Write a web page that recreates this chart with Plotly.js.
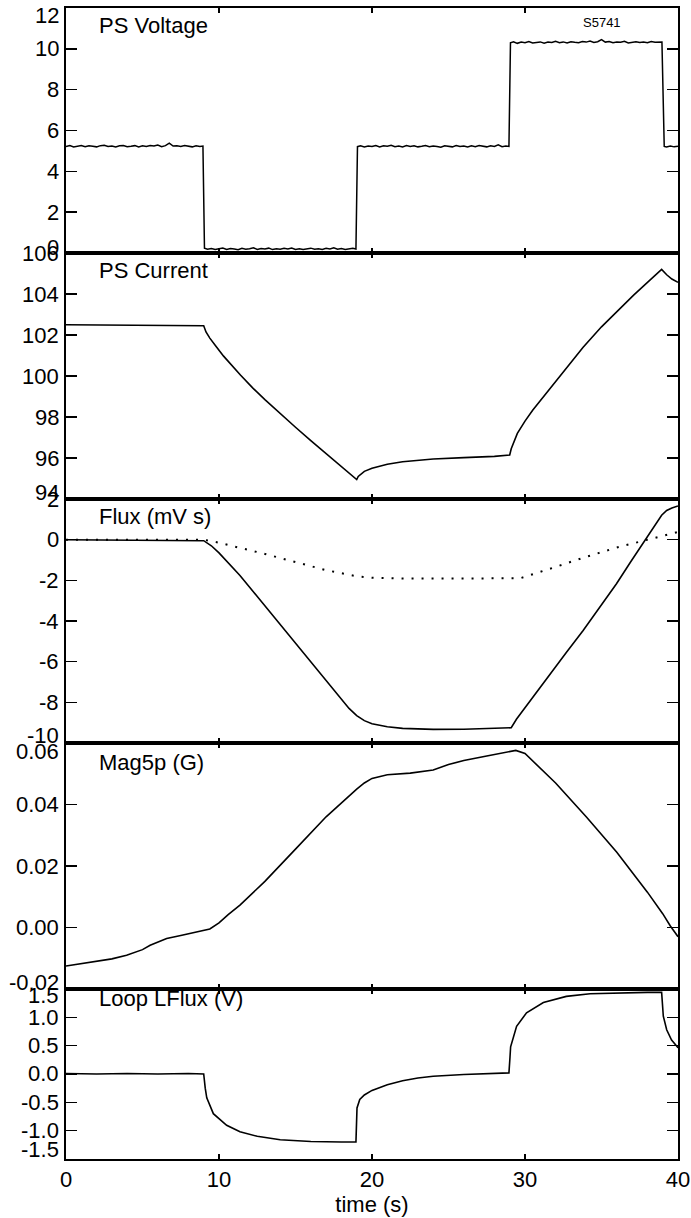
<!DOCTYPE html>
<html>
<head>
<meta charset="utf-8">
<script src="https://cdn.plot.ly/plotly-3.0.1.min.js"></script>
<style>html,body{margin:0;padding:0;background:#fff;}#chart{width:691px;height:1218px;}</style>
</head>
<body>
<div id="chart"></div>
<script>
// ---------------- DATA ----------------
// Panel 1: PS Voltage
const voltT = [0,0.25,0.5,0.75,1,1.25,1.5,1.75,2,2.25,2.5,2.75,3,3.25,3.5,3.75,4,4.25,4.5,4.75,5,5.25,5.5,5.75,6,6.25,6.5,6.75,7,7.25,7.5,7.75,8,8.25,8.5,8.75,8.95,
  9.05,9.25,9.5,9.75,10,10.25,10.5,10.75,11,11.25,11.5,11.75,12,12.25,12.5,12.75,13,13.25,13.5,13.75,14,14.25,14.5,14.75,15,15.25,15.5,15.75,16,16.25,16.5,16.75,17,17.25,17.5,17.75,18,18.25,18.5,18.75,18.95,
  19.05,19.25,19.5,19.75,20,20.25,20.5,20.75,21,21.25,21.5,21.75,22,22.25,22.5,22.75,23,23.25,23.5,23.75,24,24.25,24.5,24.75,25,25.25,25.5,25.75,26,26.25,26.5,26.75,27,27.25,27.5,27.75,28,28.25,28.5,28.75,28.95,
  29.05,29.25,29.5,29.75,30,30.25,30.5,30.75,31,31.25,31.5,31.75,32,32.25,32.5,32.75,33,33.25,33.5,33.75,34,34.25,34.5,34.75,35,35.25,35.5,35.75,36,36.25,36.5,36.75,37,37.25,37.5,37.75,38,38.25,38.5,38.75,38.95,
  39.1,39.25,39.5,39.75,40];
const voltV = [5.22,5.26,5.19,5.24,5.27,5.21,5.25,5.23,5.20,5.26,5.28,5.22,5.24,5.19,5.25,5.27,5.21,5.23,5.26,5.20,5.25,5.22,5.27,5.24,5.29,5.21,5.26,5.38,5.24,5.25,5.22,5.27,5.24,5.20,5.25,5.22,5.24,
  0.24,0.19,0.22,0.17,0.21,0.25,0.18,0.22,0.20,0.16,0.23,0.19,0.21,0.26,0.18,0.22,0.20,0.24,0.17,0.21,0.19,0.23,0.20,0.25,0.18,0.21,0.17,0.22,0.24,0.19,0.21,0.18,0.23,0.20,0.26,0.19,0.22,0.18,0.21,0.24,0.20,
  5.21,5.25,5.19,5.24,5.22,5.27,5.20,5.25,5.23,5.28,5.21,5.24,5.19,5.26,5.22,5.25,5.20,5.23,5.27,5.21,5.24,5.22,5.18,5.25,5.23,5.20,5.26,5.22,5.24,5.19,5.25,5.21,5.27,5.23,5.20,5.25,5.22,5.30,5.21,5.24,5.22,
  10.30,10.35,10.27,10.33,10.30,10.36,10.29,10.32,10.34,10.28,10.33,10.31,10.37,10.30,10.34,10.29,10.35,10.32,10.30,10.36,10.33,10.38,10.31,10.35,10.45,10.33,10.36,10.30,10.34,10.32,10.37,10.29,10.33,10.35,10.31,10.34,10.30,10.36,10.32,10.34,10.33,
  5.22,5.19,5.24,5.20,5.23];

// Panel 2: PS Current
const curT = [0,2,4,6,8,9.0,9.15,9.4,9.8,10.3,11.4,12.2,13,14,15,16,17,18,18.5,19.0,
  19.1,19.5,20,21,22,24,26,28,29.0,
  29.1,29.5,30,30.5,31.2,32.1,33,33.8,35,36,37.1,38.2,38.93,39.26,39.6,40];
const curV = [102.5,102.49,102.48,102.47,102.46,102.45,102.15,101.85,101.45,100.97,100.05,99.42,98.85,98.15,97.5,96.85,96.22,95.6,95.3,94.95,
  95.1,95.35,95.5,95.7,95.82,95.95,96.02,96.08,96.15,
  96.45,97.2,97.8,98.33,98.98,99.8,100.65,101.4,102.4,103.15,103.95,104.7,105.2,104.94,104.73,104.57];

// Panel 3: Flux (solid and dotted)
const fluxT = [0,3,6,8,9.0,9.5,10,11.37,13,15,17,18.5,19,19.5,20,21,22,24,26,28,29.1,29.45,30.5,31.63,32.7,33.8,34.9,35.98,36.9,37.84,38.93,39.26,39.6,40];
const fluxV = [0,-0.01,-0.02,-0.03,-0.05,-0.3,-0.65,-1.76,-3.25,-5.1,-6.95,-8.3,-8.65,-8.9,-9.05,-9.2,-9.28,-9.33,-9.32,-9.28,
  -9.25,-8.82,-7.75,-6.6,-5.55,-4.47,-3.33,-2.17,-1.1,-0.03,1.2,1.44,1.56,1.66];
const flux2T = [0,3,6,9,10,11.37,13,15,17,19,20,22,25,27.5,29.67,31.63,33.8,35.98,37.84,39.9,40];
const flux2V = [0,0,0,0,-0.15,-0.39,-0.7,-1.1,-1.5,-1.8,-1.87,-1.91,-1.92,-1.92,-1.9,-1.43,-0.89,-0.39,-0.03,0.37,0.38];

// Panel 4: Mag5p
const magT = [0,1,2,3,3.96,5,5.5,6.58,7.5,8.5,9.4,10,10.6,11.37,13,15,17,19,19.5,20,21,22.5,24,25,26,27.5,29,29.4,30,32,34,36,38,39,39.5,40];
const magV = [-0.0125,-0.0118,-0.011,-0.0102,-0.009,-0.0072,-0.0058,-0.0036,-0.0026,-0.0016,-0.0005,0.0015,0.0042,0.0073,
  0.015,0.0255,0.036,0.045,0.047,0.0485,0.0497,0.0502,0.0512,0.053,0.0543,0.0558,0.0572,0.0576,0.0566,
  0.047,0.036,0.0245,0.0115,0.0045,0.0005,-0.003];

// Panel 5: Loop LFlux
const loopT = [0,2,4,6,8,9.0,9.1,9.2,9.63,10.5,11.37,12.5,14,16,18,18.95,19.02,19.2,19.5,20,21,22,23,24,26,28,28.95,
  29.02,29.06,29.45,30.1,31.2,32.7,34.25,36,38,38.93,39.04,39.26,39.58,39.95,40];
const loopV = [0.01,0,0.01,0,0.01,0.0,-0.25,-0.42,-0.70,-0.906,-1.02,-1.1,-1.16,-1.19,-1.2,-1.2,-0.6,-0.45,-0.37,-0.29,-0.19,-0.12,-0.07,-0.04,-0.01,0.01,0.02,
  0.3,0.48,0.84,1.08,1.26,1.37,1.415,1.43,1.44,1.44,1.02,0.78,0.60,0.48,0.46];

// Panel titles and tick labels
const panelTitles = ['PS Voltage','PS Current','Flux (mV s)','Mag5p (G)','Loop LFlux (V)'];
const shotLabel = 'S5741';
const xTitle = 'time (s)';
const yTickVals = [
  [0,2,4,6,8,10,12],
  [94,96,98,100,102,104,106],
  [-10,-8,-6,-4,-2,0,2],
  [-0.02,0.00,0.02,0.04,0.06],
  [-1.5,-1.0,-0.5,0.0,0.5,1.0,1.5]
];
const yTickText = [
  ['0','2','4','6','8','10','12'],
  ['94','96','98','100','102','104','106'],
  ['-10','-8','-6','-4','-2','0','2'],
  ['-0.02','0.00','0.02','0.04','0.06'],
  ['-1.5','-1.0','-0.5','0.0','0.5','1.0','1.5']
];
const yRanges = [[0,12],[94,106],[-10,2],[-0.02,0.06],[-1.5,1.5]];
const xRange = [0,40];
const xTickVals = [0,10,20,30,40];
const xTickText = ['0','10','20','30','40'];

// ---------------- LAYOUT ----------------
const domains = [[0.7871,1],[0.5734,0.7871],[0.3614,0.5734],[0.1477,0.3614],[0,0.1477]];
const titleShift = [-17,-17,-17,-19,-10];
// pixel nudges of the lowest / highest tick label of each panel (as in the reference)
const edgeShift = [[-6,7],[-7,0],[-8,0],[-6,8],[-9,7]];
const FONT = 'Liberation Sans, Arial, Helvetica, sans-serif';
const FS = 22;
const lineStyle = {color:'black', width:1.6};

const traces = [
  {x:voltT, y:voltV, xaxis:'x', yaxis:'y', mode:'lines', line:{color:'black', width:1.5}},
  {x:curT, y:curV, xaxis:'x2', yaxis:'y2', mode:'lines', line:lineStyle},
  {x:fluxT, y:fluxV, xaxis:'x3', yaxis:'y3', mode:'lines', line:lineStyle},
  {x:flux2T, y:flux2V, xaxis:'x3', yaxis:'y3', mode:'lines', line:{color:'black', width:2, dash:'2px,8px'}},
  {x:magT, y:magV, xaxis:'x4', yaxis:'y4', mode:'lines', line:lineStyle},
  {x:loopT, y:loopV, xaxis:'x5', yaxis:'y5', mode:'lines', line:lineStyle}
];

const layout = {
  width:691, height:1218,
  margin:{l:66, r:13, t:8, b:59, pad:0},
  paper_bgcolor:'white', plot_bgcolor:'white',
  showlegend:false,
  font:{family:FONT, size:FS, color:'black'},
  annotations:[]
};

for (let i=0;i<5;i++){
  const n = i===0 ? '' : String(i+1);
  layout['xaxis'+n] = {
    domain:[0,1], range:xRange, anchor:'y'+n,
    tickmode:'array', tickvals:xTickVals, ticktext:xTickText,
    ticks:'inside', ticklen:5, tickwidth:1.5, tickcolor:'black',
    showline:true, linewidth:2, linecolor:'black', mirror:'ticks',
    showgrid:false, zeroline:false, showticklabels: i===4,
    tickfont:{family:FONT, size:FS, color:'black'}
  };
  if (i>0) layout['xaxis'+n].matches = 'x';
  layout['yaxis'+n] = {
    domain:domains[i], range:yRanges[i], anchor:'x'+n,
    tickmode:'array', tickvals:yTickVals[i], ticktext:yTickText[i],
    ticks:'inside', ticklen:11, tickwidth:1.5, tickcolor:'black',
    showline:true, linewidth:2, linecolor:'black', mirror:'ticks',
    showgrid:false, zeroline:false, showticklabels:false
  };
  // y tick labels placed at the axis values
  const vals = yTickVals[i];
  for (let k=0;k<vals.length;k++){
    let ys = 0;
    if (k===0) ys = -edgeShift[i][0];
    if (k===vals.length-1) ys = -edgeShift[i][1];
    layout.annotations.push({
      text:yTickText[i][k], xref:'paper', yref:'y'+n, x:0, y:vals[k],
      xanchor:'right', yanchor:'middle', xshift:-5, yshift:ys,
      showarrow:false, font:{family:FONT, size:FS, color:'black'}
    });
  }
  layout.annotations.push({
    text:panelTitles[i], xref:'x'+n, yref:'y'+n+' domain',
    x:2.0, y:1, xanchor:'left', yanchor:'middle', yshift:titleShift[i],
    showarrow:false, font:{family:FONT, size:FS, color:'black'}
  });
}
layout.xaxis5.title = {text:xTitle, font:{family:FONT, size:FS, color:'black'}, standoff:2};
layout.annotations.push({
  text:shotLabel, xref:'x', yref:'y domain', x:35, y:1, xanchor:'center', yanchor:'middle', yshift:-14,
  showarrow:false, font:{family:FONT, size:13, color:'black'}
});

Plotly.newPlot('chart', traces, layout, {staticPlot:true, displayModeBar:false});
</script>
</body>
</html>
